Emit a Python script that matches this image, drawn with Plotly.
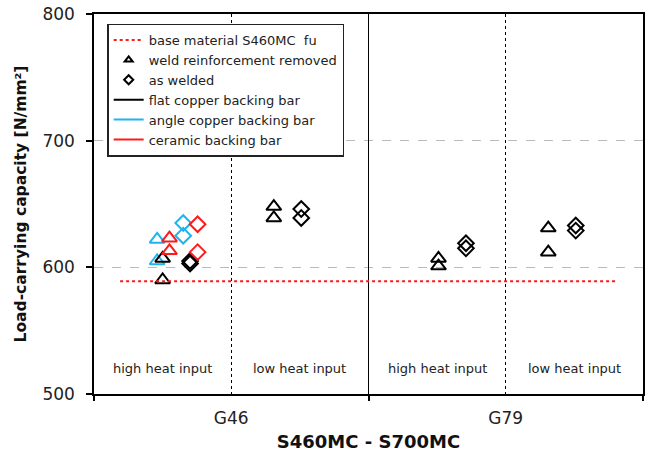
import plotly.graph_objects as go

# ---- data -----------------------------------------------------------------
# x axis: four regions (G46 high / G46 low / G79 high / G79 low heat input)
region_labels = ["high heat input", "low heat input", "high heat input", "low heat input"]
group_labels = ["G46", "G79"]
base_material_fu = 589  # S460MC tensile strength, N/mm²

# G46, high heat input
g46h_flat_removed = [607, 590]
g46h_angle_removed = [622, 605]
g46h_ceramic_removed = [623, 613]
g46h_flat_welded = [605, 603]
g46h_angle_welded = [635, 625]
g46h_ceramic_welded = [634, 612]

# G46, low heat input (flat copper backing bar)
g46l_flat_removed = [648, 639]
g46l_flat_welded = [646, 639]

# G79, high heat input (flat copper backing bar)
g79h_flat_removed = [607, 601]
g79h_flat_welded = [619, 615]

# G79, low heat input (flat copper backing bar)
g79l_flat_removed = [631, 612]
g79l_flat_welded = [633, 629]

BLACK = "#000000"
BLUE = "#1fb4f0"
RED = "#ff1a1a"
FONT = "DejaVu Sans"

fig = go.Figure()


def add_points(region, offset, values, symbol, color, size):
    fig.add_trace(go.Scatter(
        x=[region + offset] * len(values), y=values, mode="markers",
        marker=dict(symbol=symbol, size=size, color=color,
                    line=dict(color=color, width=2)),
        showlegend=False, hoverinfo="y"))


TRI, DIA = "triangle-up-open", "diamond-open"
TS, DS = 13, 12

# G46 high heat input: three backing bars side by side
add_points(0, 0.46, g46h_angle_removed, TRI, BLUE, TS)
add_points(0, 0.50, g46h_flat_removed, TRI, BLACK, TS)
add_points(0, 0.55, g46h_ceramic_removed, TRI, RED, TS)
add_points(0, 0.65, g46h_angle_welded, DIA, BLUE, DS)
add_points(0, 0.70, g46h_flat_welded, DIA, BLACK, DS)
add_points(0, 0.755, g46h_ceramic_welded, DIA, RED, DS)

add_points(1, 0.31, g46l_flat_removed, TRI, BLACK, TS)
add_points(1, 0.51, g46l_flat_welded, DIA, BLACK, DS)
add_points(2, 0.51, g79h_flat_removed, TRI, BLACK, TS)
add_points(2, 0.71, g79h_flat_welded, DIA, BLACK, DS)
add_points(3, 0.31, g79l_flat_removed, TRI, BLACK, TS)
add_points(3, 0.51, g79l_flat_welded, DIA, BLACK, DS)

# base material reference line
fig.add_trace(go.Scatter(
    x=[0.19, 3.8], y=[base_material_fu, base_material_fu], mode="lines",
    line=dict(color=RED, width=2, dash="dot"),
    name="base material S460MC  fu", showlegend=True, hoverinfo="skip"))

# legend-only entries
fig.add_trace(go.Scatter(x=[None], y=[None], mode="markers",
                         marker=dict(symbol=TRI, size=7, color=BLACK, line=dict(color=BLACK, width=2)),
                         name="weld reinforcement removed"))
fig.add_trace(go.Scatter(x=[None], y=[None], mode="markers",
                         marker=dict(symbol=DIA, size=7, color=BLACK, line=dict(color=BLACK, width=2)),
                         name="as welded"))
for nm, col in [("flat copper backing bar", BLACK),
                ("angle copper backing bar", BLUE),
                ("ceramic backing bar", RED)]:
    fig.add_trace(go.Scatter(x=[None], y=[None], mode="lines",
                             line=dict(color=col, width=2), name=nm))

# empty trace so the group-boundary axis is drawn
fig.add_trace(go.Scatter(x=[None], y=[None], xaxis="x2", showlegend=False,
                         hoverinfo="skip"))

# region captions
for i, lab in enumerate(region_labels):
    fig.add_annotation(x=i + 0.5, y=520, text=lab, showarrow=False,
                       font=dict(family=FONT, size=13, color="#222"))

fig.update_layout(
    width=649, height=453,
    margin=dict(l=94, r=4, t=14, b=58),
    paper_bgcolor="white", plot_bgcolor="white",
    font=dict(family=FONT, color="#222"),
    legend=dict(x=0.024, y=0.975, xanchor="left", yanchor="top",
                bgcolor="white", bordercolor="#222", borderwidth=1.5,
                font=dict(family=FONT, size=13, color="#222"),
                tracegroupgap=0, itemsizing="trace"),
    # group labels and dotted heat-input separators
    xaxis=dict(range=[0, 4], tickmode="array", tickvals=[1, 3], ticktext=group_labels,
               ticks="", ticklabelstandoff=8,
               showgrid=True, gridcolor=BLACK, griddash="dot", gridwidth=1,
               showline=True, linecolor=BLACK, linewidth=1.5, mirror=True,
               zeroline=False, tickfont=dict(size=17, family=FONT, color="#222"),
               title=dict(text="<b>S460MC - S700MC</b>", standoff=8,
                          font=dict(size=18, family=FONT, color="#111"))),
    # group boundaries: outside ticks and a solid separator
    xaxis2=dict(range=[0, 4], overlaying="x", side="bottom", anchor="y",
                tickmode="array", tickvals=[0, 2, 4], showticklabels=False,
                ticks="outside", ticklen=6, tickcolor=BLACK, tickwidth=1.5,
                showgrid=True, gridcolor=BLACK, gridwidth=1,
                showline=False, zeroline=False),
    yaxis=dict(range=[500, 800], tickvals=[500, 600, 700, 800], ticks="outside",
               ticklen=6, tickcolor=BLACK, tickwidth=1.5, ticklabelstandoff=8,
               showgrid=True, gridcolor="#bbbbbb", griddash="dash", gridwidth=1,
               showline=True, linecolor=BLACK, linewidth=1.5, mirror=True,
               zeroline=False, tickfont=dict(size=17, family=FONT, color="#222"),
               title=dict(text="<b>Load-carrying capacity [N/mm²]</b>", standoff=12,
                          font=dict(size=15.5, family=FONT, color="#111"))),
)

fig.write_html("out.html")
